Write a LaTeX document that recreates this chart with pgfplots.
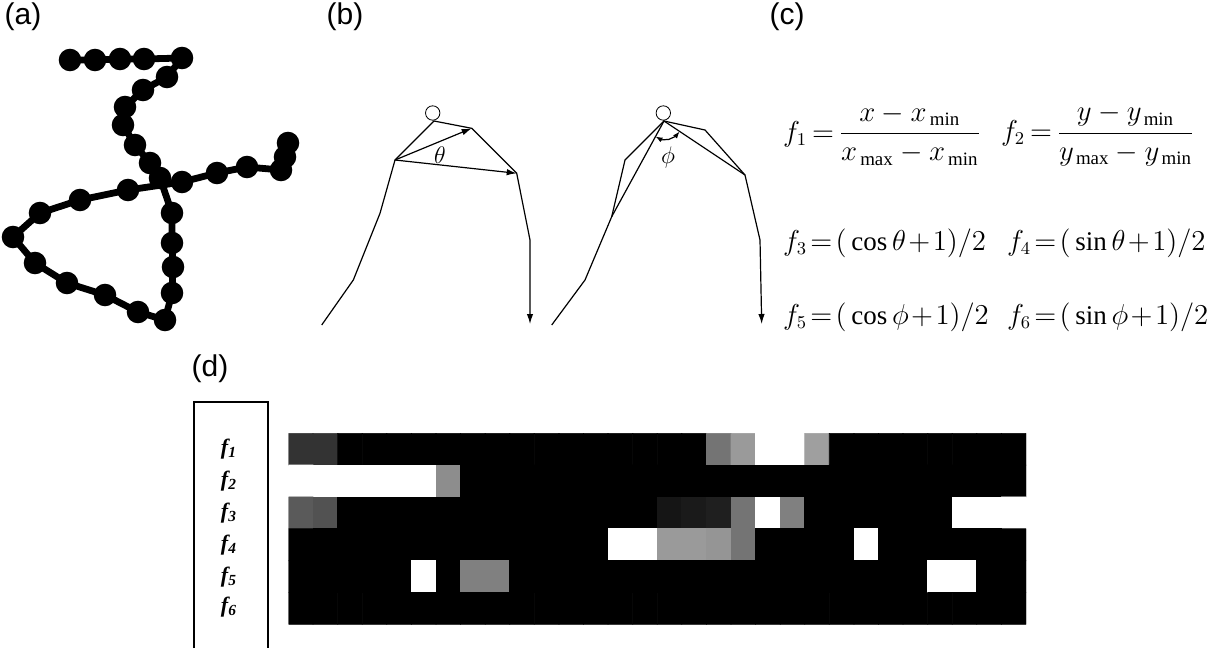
\documentclass[border=0pt]{standalone}
\usepackage{fontspec}
\setmainfont{Liberation Serif}
\newfontfamily\labelfont{Liberation Sans}
\usepackage{pgfplots}
\pgfplotsset{compat=1.18}
\usetikzlibrary{arrows.meta}
\tikzset{vecarrow/.style={arrows={-Latex[length=5pt,width=3.2pt]}},
  dblarrow/.style={arrows={Latex[length=3.5pt,width=2.6pt]-Latex[length=3.5pt,width=2.6pt]}}}
\newcommand\fml{\fontsize{13.5}{15}\selectfont\thickmuskip=2mu\medmuskip=1.5mu}
\newcommand\frc{\fontsize{13.5}{15}\selectfont\thickmuskip=3mu}
\newcommand\lbl{\labelfont\fontsize{15}{17}\selectfont}
\newcommand\fsm{\fontsize{11}{12}\selectfont\bfseries\itshape}
\newcommand\gk{\fontsize{12}{13}\selectfont}
\begin{document}
\begin{tikzpicture}
\path[use as bounding box] (0,0) rectangle (604pt,324pt);
\begin{axis}[at={(0pt,0pt)}, anchor=south west, scale only axis,
  width=604pt, height=324pt, xmin=0, xmax=1208, ymin=0, ymax=648,
  y dir=reverse, hide axis, clip=false]
% (a) trajectory
\addplot[black, line width=3.4pt, mark=*, mark size=3.9pt] coordinates {
 (70,60) (95,60) (120,59) (144,59) (182,58) (167,77) (143,90) (125,107)
 (123,125) (135,145) (150,163) (160,178) (172,213) (172,243) (173,267)
 (172,293) (165,320) (138,312) (105,295) (67,283) (35,263) (13,237)
 (40,213) (80,200) (128,190) (182,182) (217,173) (247,167) (281,170)
 (285,157) (288,143)};
% (b) left sketch
\addplot[black, line width=0.6pt, vecarrow] coordinates {
 (321.7,325) (353.3,280) (380,213.3) (395,160) (434,121) (471.7,128.3)
 (516.7,173.3) (530,240) (530,324)};
\addplot[black, line width=0.6pt, vecarrow] coordinates {(395,160) (471.7,128.3)};
\addplot[black, line width=0.6pt, vecarrow] coordinates {(395,160) (516.7,173.3)};
\addplot[black, only marks, mark=o, mark size=3.6pt] coordinates {(432.7,113) (663.3,113)};
% (b) right sketch
\addplot[black, line width=0.6pt, vecarrow] coordinates {
 (551.7,325) (585,280) (611.7,216.7) (625,160) (664,121) (705,130)
 (745,175) (760,240) (761.7,324)};
\addplot[black, line width=0.6pt] coordinates {(611.7,216.7) (664,121) (745,175)};
\addplot[black, line width=0.6pt, dblarrow] coordinates {
 (655.5,136.5) (661.6,139.9) (668.8,139.4) (675.5,136.4) (679.6,131.5)};
% (d) label box
\addplot[black, line width=0.7pt] coordinates {(194,648) (194,402) (268,402) (268,648)};
\end{axis}
% (d) heat map
\begin{axis}[at={(144.25pt,11.85pt)}, anchor=south west, scale only axis,
  width=368.75pt, height=95.5pt, xmin=-0.5, xmax=29.5, ymin=-0.5, ymax=5.5,
  y dir=reverse, hide axis, colormap/blackwhite, point meta min=0, point meta max=1]
\addplot[matrix plot*, mesh/cols=30, point meta=explicit] coordinates {
(0,0)[.2] (1,0)[.2] (2,0)[0] (3,0)[0] (4,0)[0] (5,0)[0] (6,0)[0] (7,0)[0] (8,0)[0] (9,0)[0]
(10,0)[0] (11,0)[0] (12,0)[0] (13,0)[0] (14,0)[0] (15,0)[0] (16,0)[0] (17,0)[.45] (18,0)[.6] (19,0)[1]
(20,0)[1] (21,0)[.62] (22,0)[0] (23,0)[0] (24,0)[0] (25,0)[0] (26,0)[0] (27,0)[0] (28,0)[0] (29,0)[0]
(0,1)[1] (1,1)[1] (2,1)[1] (3,1)[1] (4,1)[1] (5,1)[1] (6,1)[.55] (7,1)[0] (8,1)[0] (9,1)[0]
(10,1)[0] (11,1)[0] (12,1)[0] (13,1)[0] (14,1)[0] (15,1)[0] (16,1)[0] (17,1)[0] (18,1)[0] (19,1)[0]
(20,1)[0] (21,1)[0] (22,1)[0] (23,1)[0] (24,1)[0] (25,1)[0] (26,1)[0] (27,1)[0] (28,1)[0] (29,1)[0]
(0,2)[.35] (1,2)[.32] (2,2)[0] (3,2)[0] (4,2)[0] (5,2)[0] (6,2)[0] (7,2)[0] (8,2)[0] (9,2)[0]
(10,2)[0] (11,2)[0] (12,2)[0] (13,2)[0] (14,2)[0] (15,2)[.08] (16,2)[.1] (17,2)[.12] (18,2)[.45] (19,2)[1]
(20,2)[.5] (21,2)[0] (22,2)[0] (23,2)[0] (24,2)[0] (25,2)[0] (26,2)[0] (27,2)[1] (28,2)[1] (29,2)[1]
(0,3)[0] (1,3)[0] (2,3)[0] (3,3)[0] (4,3)[0] (5,3)[0] (6,3)[0] (7,3)[0] (8,3)[0] (9,3)[0]
(10,3)[0] (11,3)[0] (12,3)[0] (13,3)[1] (14,3)[1] (15,3)[.6] (16,3)[.6] (17,3)[.58] (18,3)[.45] (19,3)[0]
(20,3)[0] (21,3)[0] (22,3)[0] (23,3)[1] (24,3)[0] (25,3)[0] (26,3)[0] (27,3)[0] (28,3)[0] (29,3)[0]
(0,4)[0] (1,4)[0] (2,4)[0] (3,4)[0] (4,4)[0] (5,4)[1] (6,4)[0] (7,4)[.5] (8,4)[.5] (9,4)[0]
(10,4)[0] (11,4)[0] (12,4)[0] (13,4)[0] (14,4)[0] (15,4)[0] (16,4)[0] (17,4)[0] (18,4)[0] (19,4)[0]
(20,4)[0] (21,4)[0] (22,4)[0] (23,4)[0] (24,4)[0] (25,4)[0] (26,4)[1] (27,4)[1] (28,4)[0] (29,4)[0]
(0,5)[0] (1,5)[0] (2,5)[0] (3,5)[0] (4,5)[0] (5,5)[0] (6,5)[0] (7,5)[0] (8,5)[0] (9,5)[0]
(10,5)[0] (11,5)[0] (12,5)[0] (13,5)[0] (14,5)[0] (15,5)[0] (16,5)[0] (17,5)[0] (18,5)[0] (19,5)[0]
(20,5)[0] (21,5)[0] (22,5)[0] (23,5)[0] (24,5)[0] (25,5)[0] (26,5)[0] (27,5)[0] (28,5)[0] (29,5)[0]
};
\end{axis}
% text
\node[font=\lbl] at (11.5pt,315.5pt) {(a)};
\node[font=\lbl] at (172.5pt,315.5pt) {(b)};
\node[font=\lbl] at (393.5pt,315.5pt) {(c)};
\node[font=\lbl] at (105pt,139.5pt) {(d)};
\node[font=\gk] at (220pt,246.5pt) {$\theta$};
\node[font=\gk] at (334pt,245pt) {$\phi$};
\node[anchor=west, font=\frc] at (388pt,256.5pt) {$\displaystyle f_1=\frac{x-x_{\,\mathrm{min}}}{x_{\,\mathrm{max}}-x_{\,\mathrm{min}}}$};
\node[anchor=west, font=\frc] at (497pt,256.5pt) {$\displaystyle f_2=\frac{y-y_{\,\mathrm{min}}}{y_{\,\mathrm{max}}-y_{\,\mathrm{min}}}$};
\node[anchor=west, font=\fml] at (388pt,202.5pt) {$f_3=(\,\cos\theta+1)/2$};
\node[anchor=west, font=\fml] at (500pt,202.5pt) {$f_4=(\,\sin\theta+1)/2$};
\node[anchor=west, font=\fml] at (388pt,165.5pt) {$f_5=(\,\cos\phi+1)/2$};
\node[anchor=west, font=\fml] at (500pt,165.5pt) {$f_6=(\,\sin\phi+1)/2$};
\node[font=\fsm] at (114.5pt,99.5pt) {f\textsubscript{1}};
\node[font=\fsm] at (114.5pt,83.5pt) {f\textsubscript{2}};
\node[font=\fsm] at (114.5pt,67.5pt) {f\textsubscript{3}};
\node[font=\fsm] at (114.5pt,51.5pt) {f\textsubscript{4}};
\node[font=\fsm] at (114.5pt,35.5pt) {f\textsubscript{5}};
\node[font=\fsm] at (114.5pt,20.5pt) {f\textsubscript{6}};
\end{tikzpicture}
\end{document}
